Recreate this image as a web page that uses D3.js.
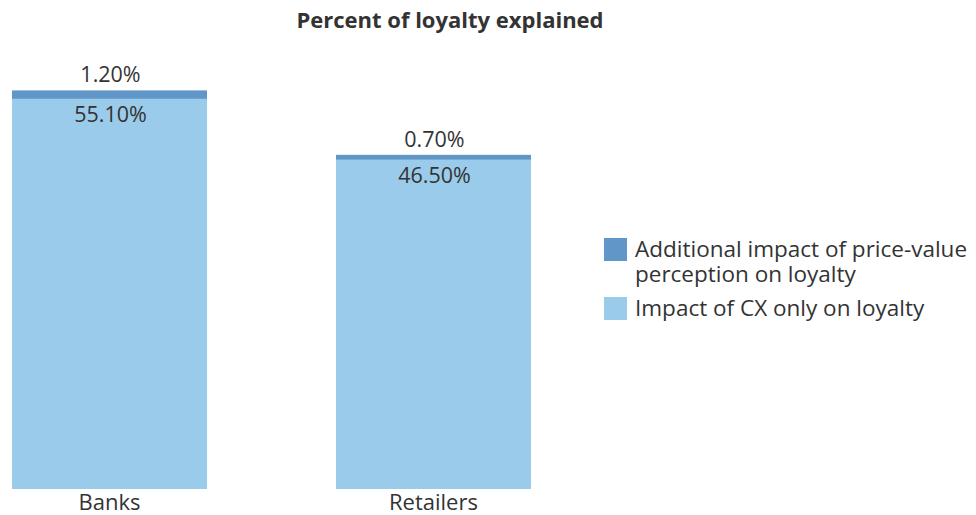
<!DOCTYPE html>
<html>
<head>
<meta charset="utf-8">
<script src="https://cdn.jsdelivr.net/npm/d3@7"></script>
<style>
  html, body { margin: 0; padding: 0; background: #fff; }
  #chart { width: 976px; height: 515px; }
  text { font-family: "Open Sans", Lato, sans-serif; fill: #333; }
</style>
</head>
<body>
<div id="chart"></div>
<script>
'use strict';

const categories = ['Banks', 'Retailers'];
const cxOnly = [55.1, 46.5];
const priceValue = [1.2, 0.7];
const legendLines = [['Additional impact of price-value', 'perception on loyalty'], ['Impact of CX only on loyalty']];
const COLORS = { price: '#6197c8', cx: '#9bcbea' };

const W = 976, H = 515;
const svg = d3.select('#chart').append('svg').attr('width', W).attr('height', H);

const x = d3.scaleBand()
  .domain(categories)
  .range([12, 531])
  .paddingInner(0.398)
  .paddingOuter(0);

const y = d3.scaleLinear()
  .domain([0, 60])
  .range([489, 489 - 60 * 7.08]);

const fmt = v => v.toFixed(2) + '%';

// Title
svg.append('text')
  .attr('x', 450).attr('y', 28)
  .attr('text-anchor', 'middle')
  .attr('font-size', '22px')
  .attr('font-weight', 'bold')
  .text('Percent of loyalty explained');

// Bars
categories.forEach((c, i) => {
  const bx = x(c), bw = x.bandwidth();
  const base = cxOnly[i], top = cxOnly[i] + priceValue[i];

  svg.append('rect')
    .attr('x', bx).attr('width', bw)
    .attr('y', y(base)).attr('height', y(0) - y(base))
    .attr('fill', COLORS.cx);

  svg.append('rect')
    .attr('x', bx).attr('width', bw)
    .attr('y', y(top)).attr('height', y(base) - y(top))
    .attr('fill', COLORS.price);

  svg.append('text')
    .attr('x', bx + bw / 2 + 1).attr('y', y(top) - 8)
    .attr('text-anchor', 'middle')
    .attr('font-size', '21.5px')
    .text(fmt(priceValue[i]));

  svg.append('text')
    .attr('x', bx + bw / 2 + 1).attr('y', y(base) + 23)
    .attr('text-anchor', 'middle')
    .attr('font-size', '21.5px')
    .text(fmt(cxOnly[i]));
});

// X axis labels
svg.append('g')
  .attr('transform', `translate(0,${y(0)})`)
  .call(d3.axisBottom(x).tickSize(0).tickPadding(5))
  .call(g => g.select('.domain').remove())
  .selectAll('text')
  .attr('font-size', '22px')
  .attr('font-family', '"Open Sans", Lato, sans-serif')
  .attr('fill', '#333');

// Legend
const legend = svg.append('g').attr('transform', 'translate(604,0)');
const legendItems = [
  { color: COLORS.price, y: 238, lines: legendLines[0] },
  { color: COLORS.cx, y: 297, lines: legendLines[1] },
];
legendItems.forEach(item => {
  legend.append('rect')
    .attr('x', 0).attr('y', item.y)
    .attr('width', 23).attr('height', 23)
    .attr('fill', item.color);
  const t = legend.append('text')
    .attr('x', 31).attr('y', item.y + 19)
    .attr('font-size', '22.5px');
  item.lines.forEach((line, j) => {
    t.append('tspan').attr('x', 31).attr('dy', j === 0 ? 0 : 25).text(line);
  });
});
</script>
</body>
</html>
